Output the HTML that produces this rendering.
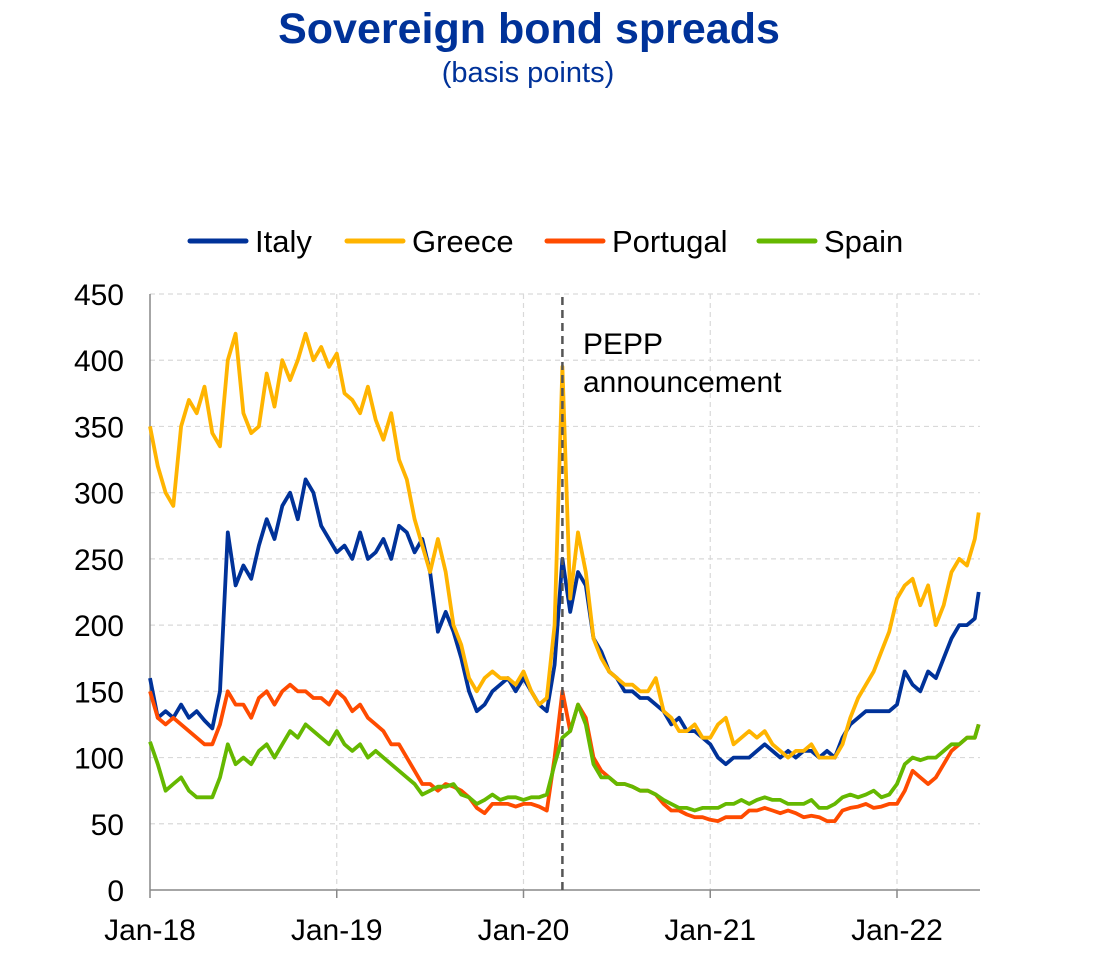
<!DOCTYPE html>
<html><head><meta charset="utf-8"><style>
body{margin:0;background:#fff;}
svg text{font-family:"Liberation Sans",Arial,sans-serif;}
</style></head><body>
<svg id="chart" width="1096" height="962" xmlns="http://www.w3.org/2000/svg">
<text x="529" y="43" text-anchor="middle" font-size="43" font-weight="bold" fill="#003299">Sovereign bond spreads</text>
<text x="528" y="82" text-anchor="middle" font-size="29" fill="#003299">(basis points)</text>
<g id="legend"></g>
<g id="grid"></g>
<g id="axes"></g>
<g id="series"></g>
<g id="annot"></g>
</svg>
<script>
const yTicks=[0,50,100,150,200,250,300,350,400,450];
const xTickMonths=[0,12,24,36,48];
const xTickLabels=["Jan-18","Jan-19","Jan-20","Jan-21","Jan-22"];
const seriesNames=["Italy","Greece","Portugal","Spain"];
const seriesColors=["#003299","#FFB400","#FF4B00","#65B800"];
const peppMonth=26.5;
const italy=[160,130,135,130,140,130,135,128,122,150,270,230,245,235,260,280,265,290,300,280,310,300,275,265,
255,260,250,270,250,255,265,250,275,270,255,265,240,195,210,195,175,150,135,140,150,155,160,150,
160,150,140,135,170,250,210,240,230,190,180,165,160,150,150,145,145,140,135,125,130,120,120,115,
110,100,95,100,100,100,105,110,105,100,105,100,105,105,100,105,100,115,125,130,135,135,135,135,
140,165,155,150,165,160,175,190,200,200,205,225];
const greece=[350,320,300,290,350,370,360,380,345,335,400,420,360,345,350,390,365,400,385,400,420,400,410,395,
405,375,370,360,380,355,340,360,325,310,280,260,240,265,240,200,185,160,150,160,165,160,160,155,
165,150,140,145,200,395,220,270,240,190,175,165,160,155,155,150,150,160,135,130,120,120,125,115,
115,125,130,110,115,120,115,120,110,105,100,105,105,110,100,100,100,110,130,145,155,165,180,195,
220,230,235,215,230,200,215,240,250,245,265,285];
const portugal=[150,130,125,130,125,120,115,110,110,125,150,140,140,130,145,150,140,150,155,150,150,145,145,140,
150,145,135,140,130,125,120,110,110,100,90,80,80,75,80,78,75,70,62,58,65,65,65,63,
65,65,63,60,100,150,120,140,130,100,90,85,80,80,78,75,75,72,65,60,60,57,55,55,
53,52,55,55,55,60,60,62,60,58,60,58,55,56,55,52,52,60,62,63,65,62,63,65,
65,75,90,85,80,85,95,105,110,115,115,125];
const spain=[112,95,75,80,85,75,70,70,70,85,110,95,100,95,105,110,100,110,120,115,125,120,115,110,
120,110,105,110,100,105,100,95,90,85,80,72,75,78,78,80,72,70,65,68,72,68,70,70,
68,70,70,72,95,115,120,140,125,95,85,85,80,80,78,75,75,72,68,65,62,62,60,62,
62,62,65,65,68,65,68,70,68,68,65,65,65,68,62,62,65,70,72,70,72,75,70,72,
80,95,100,98,100,100,105,110,110,115,115,125];
const allSeries=[italy,greece,portugal,spain];
const NS="http://www.w3.org/2000/svg";
const X0=150,XPM=(897-150)/48,Y0=890,YPU=(890-294)/450;
function xs(m){return X0+m*XPM;}
function ys(v){return Y0-v*YPU;}
function tMonth(i,n){return i===n-1? 53.25 : i*0.5;}
function mk(tag,attrs,parent){const e=document.createElementNS(NS,tag);for(const k in attrs)e.setAttribute(k,attrs[k]);parent.appendChild(e);return e;}
const grid=document.getElementById('grid'),axes=document.getElementById('axes'),ser=document.getElementById('series'),ann=document.getElementById('annot'),leg=document.getElementById('legend');
yTicks.forEach(v=>{
  if(v>0){const l=mk('line',{x1:X0,x2:980,y1:ys(v),y2:ys(v),stroke:'#d9d9d9','stroke-width':1.2,'stroke-dasharray':'5,4'},grid);
  
  }
  const t=mk('text',{x:124,y:ys(v)+11,'text-anchor':'end','font-size':30,fill:'#000'},axes);t.textContent=v;
  
  
});
xTickMonths.forEach((m,i)=>{
  if(m>0){const l=mk('line',{x1:xs(m),x2:xs(m),y1:294,y2:Y0,stroke:'#d9d9d9','stroke-width':1.2,'stroke-dasharray':'5,4'},grid);
  
  }
  const tk=mk('line',{x1:xs(m),x2:xs(m),y1:Y0,y2:Y0+8,stroke:'#888','stroke-width':1.5},axes);
  
  
  const t=mk('text',{x:xs(m),y:940,'text-anchor':'middle','font-size':30,fill:'#000'},axes);t.textContent=xTickLabels[i];
  
  
});
const ya=mk('line',{x1:X0,x2:X0,y1:294,y2:Y0,stroke:'#888','stroke-width':1.5},axes);


const xa=mk('line',{x1:X0,x2:980,y1:Y0,y2:Y0,stroke:'#888','stroke-width':1.5},axes);


allSeries.forEach((arr,si)=>{
  const pts=arr.map((v,i)=>xs(tMonth(i,arr.length)).toFixed(1)+','+ys(v).toFixed(1)).join(' ');
  const p=mk('polyline',{points:pts,fill:'none',stroke:seriesColors[si],'stroke-width':3.8,'stroke-linejoin':'round'},ser);
  
  
});
const pl=mk('line',{x1:xs(peppMonth),x2:xs(peppMonth),y1:297,y2:Y0,stroke:'#555','stroke-width':2.5,'stroke-dasharray':'8,5'},ann);


const a1=mk('text',{x:583,y:354,'font-size':30,fill:'#000'},ann);a1.textContent='PEPP';


const a2=mk('text',{x:583,y:392,'font-size':30,fill:'#000'},ann);a2.textContent='announcement';


const legX=[190,347,547,759];
seriesNames.forEach((n,i)=>{
  const g=mk('g',{},leg);
  
  
  mk('line',{x1:legX[i],x2:legX[i]+56,y1:241,y2:241,stroke:seriesColors[i],'stroke-width':5,'stroke-linecap':'round'},g);
  const t=mk('text',{x:legX[i]+65,y:252,'font-size':31,fill:'#000'},g);t.textContent=n;
});
</script>
</body></html>
